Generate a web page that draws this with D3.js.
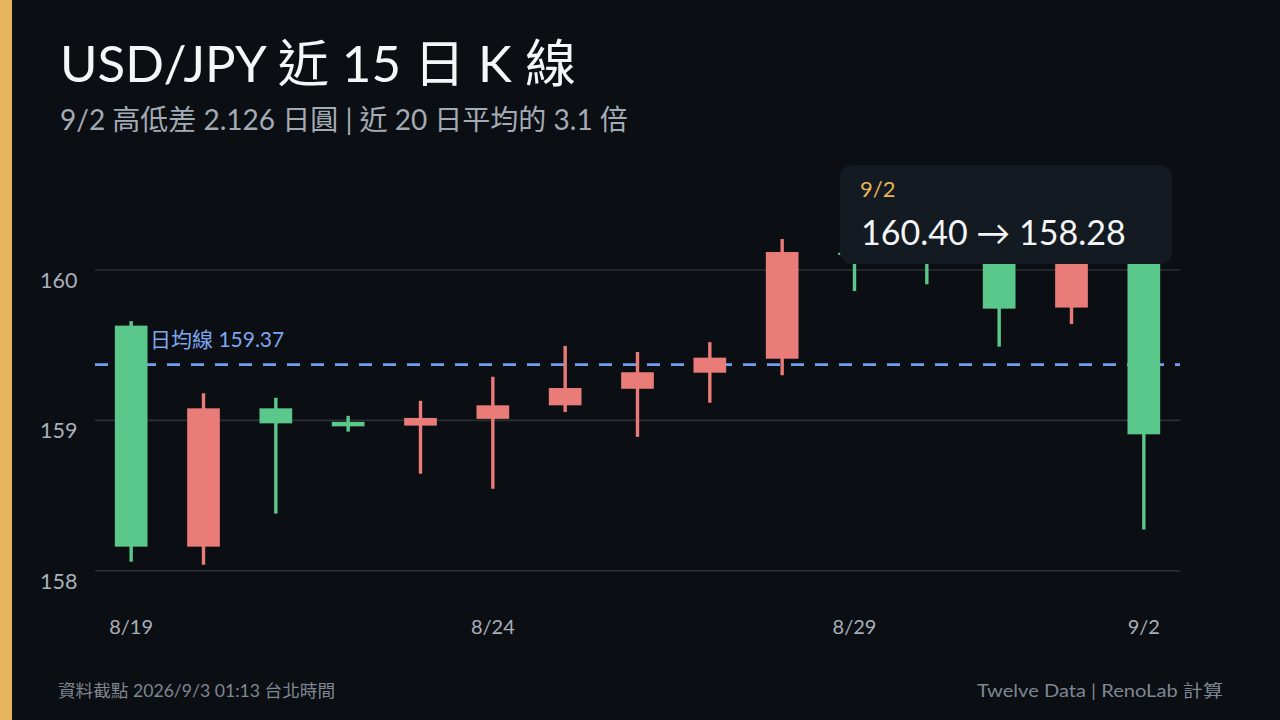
<!DOCTYPE html>
<html><head><meta charset="utf-8">
<script src="https://cdn.jsdelivr.net/npm/d3@7/dist/d3.min.js"></script>
<style>
html,body{margin:0;padding:0;background:#0b0e13;}
svg{display:block;}
text{font-family:Lato,'Noto Sans CJK TC',sans-serif;}
</style></head>
<body>
<svg id="c" width="1280" height="720"></svg>
<script>
const dates = ["8/19","8/20","8/21","8/22","8/23","8/24","8/25","8/26","8/27","8/28","8/29","8/30","8/31","9/1","9/2"];
const openV  = [159.63, 158.16, 159.08, 158.99, 158.965, 159.01, 159.10, 159.21, 159.317, 159.41, 160.115, 160.10, 160.06, 159.75, 160.30];
const highV  = [159.66, 159.18, 159.15, 159.03, 159.13, 159.29, 159.495, 159.455, 159.52, 160.206, 160.25, 160.20, 160.15, 160.35, 160.40];
const lowV   = [158.06, 158.04, 158.38, 158.925, 158.645, 158.545, 159.055, 158.89, 159.117, 159.30, 159.86, 159.905, 159.49, 159.64, 158.274];
const closeV = [158.16, 159.08, 158.98, 158.96, 159.016, 159.10, 159.215, 159.32, 159.417, 160.12, 160.10, 160.06, 159.743, 160.30, 158.907];
const yTicks = [158, 159, 160];
const xTickLabels = ["8/19","8/24","8/29","9/2"];
const meanValue = 159.37;
const meanLabel = "日均線 159.37";
const titleText = "USD/JPY 近 15 日 K 線";
const subtitleText = "9/2 高低差 2.126 日圓 | 近 20 日平均的 3.1 倍";
const tipDate = "9/2";
const tipText = "160.40 → 158.28";
const footLeft = "資料截點 2026/9/3 01:13 台北時間";
const footRight = "Twelve Data | RenoLab 計算";

const UP = "#e97b79", DOWN = "#5bc88b";
const data = dates.map((d,i)=>({d, o:openV[i], h:highV[i], l:lowV[i], c:closeV[i]}));

const svg = d3.select("#c");
svg.append("rect").attr("width",1280).attr("height",720).attr("fill","#0b0e13");
svg.append("rect").attr("x",0).attr("y",0).attr("width",12).attr("height",720).attr("fill","#e8b55c");

const x = d3.scalePoint().domain(dates).range([95,1180]).padding(0.5);
const step = x.step();
const bw = step*0.452;
const y = d3.scaleLinear().domain([158,160]).range([570.7,270]);

// grid
svg.append("g").selectAll("line").data(yTicks).join("line")
  .attr("x1",95).attr("x2",1180)
  .attr("y1",d=>y(d)).attr("y2",d=>y(d))
  .attr("stroke","#2b3038").attr("stroke-width",1.6);
svg.append("g").selectAll("text").data(yTicks).join("text")
  .attr("x",40).attr("y",d=>y(d)+18)
  .attr("fill","#a9b0ba").attr("font-size",21.5)
  .text(d=>d3.format("d")(d));

// x labels
svg.append("g").selectAll("text").data(xTickLabels).join("text")
  .attr("x",d=>x(d)).attr("y",634).attr("text-anchor","middle")
  .attr("fill","#a9b0ba").attr("font-size",20).text(d=>d);

// mean line
svg.append("line").attr("x1",95).attr("x2",1180)
  .attr("y1",y(meanValue)).attr("y2",y(meanValue))
  .attr("stroke","#6fa0f0").attr("stroke-width",2.8).attr("stroke-dasharray","13 11");

// candles
const g = svg.append("g");
g.selectAll("line.w").data(data).join("line").attr("class","w")
  .attr("x1",d=>x(d.d)).attr("x2",d=>x(d.d))
  .attr("y1",d=>y(d.h)).attr("y2",d=>y(d.l))
  .attr("stroke",d=>d.c>=d.o?UP:DOWN).attr("stroke-width",3.4);
g.selectAll("rect.b").data(data).join("rect").attr("class","b")
  .attr("x",d=>x(d.d)-bw/2).attr("width",bw)
  .attr("y",d=>y(Math.max(d.o,d.c)))
  .attr("height",d=>Math.max(2,Math.abs(y(d.o)-y(d.c))))
  .attr("fill",d=>d.c>=d.o?UP:DOWN);

svg.append("text").attr("x",150).attr("y",y(meanValue)-18)
  .attr("fill","#7ea7ef").attr("font-size",21).text(meanLabel);

// title
svg.append("text").attr("x",60).attr("y",82).attr("fill","#f4f6f8")
  .attr("font-size",51).text(titleText);
svg.append("text").attr("x",60).attr("y",130).attr("fill","#a3abb5")
  .attr("font-size",28).text(subtitleText);

// tooltip
svg.append("rect").attr("x",840).attr("y",165).attr("width",332).attr("height",99)
  .attr("rx",12).attr("fill","#141a21");
svg.append("text").attr("x",860).attr("y",197).attr("fill","#e8b45c")
  .attr("font-size",22).text(tipDate);
svg.append("text").attr("x",861).attr("y",245).attr("fill","#f3f5f7")
  .attr("font-size",34).text(tipText);

// footer
svg.append("text").attr("x",58).attr("y",697).attr("fill","#7f8792")
  .attr("font-size",17).attr("textLength",277).attr("lengthAdjust","spacingAndGlyphs").text(footLeft);
svg.append("text").attr("x",1223).attr("y",697).attr("text-anchor","end").attr("fill","#7f8792")
  .attr("font-size",17).attr("textLength",246).attr("lengthAdjust","spacingAndGlyphs").text(footRight);
</script>
</body></html>
